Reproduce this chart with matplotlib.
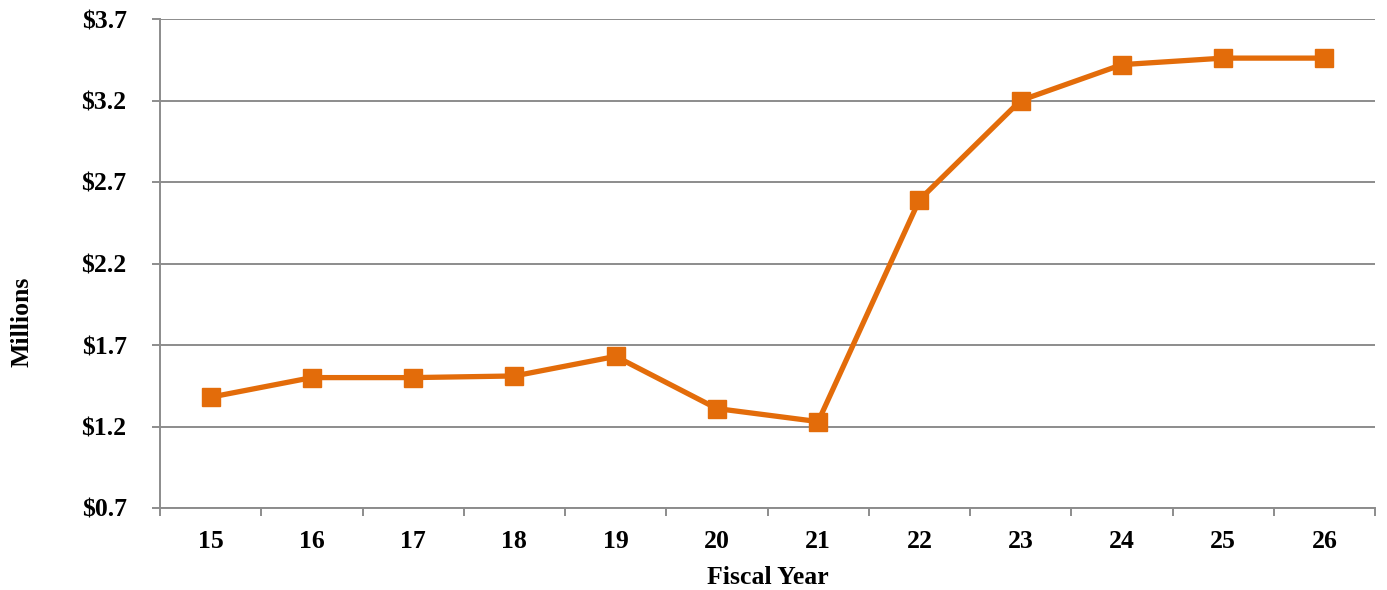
import matplotlib
matplotlib.use("Agg")
import matplotlib.pyplot as plt
import numpy as np
from matplotlib.ticker import FixedLocator, NullFormatter, FuncFormatter

fiscal_years = ["15", "16", "17", "18", "19", "20", "21", "22", "23", "24", "25", "26"]
values_millions = [1.38, 1.50, 1.50, 1.51, 1.63, 1.31, 1.23, 2.59, 3.20, 3.42, 3.46, 3.46]
y_ticks = [0.7, 1.2, 1.7, 2.2, 2.7, 3.2, 3.7]

LINE_COLOR = "#E36C0A"
GRID_COLOR = "#8C8C8C"
FONT_SIZE = 18.5

plt.rcParams["font.family"] = ["Liberation Serif", "DejaVu Serif"]
plt.rcParams["font.weight"] = "bold"

fig = plt.figure(figsize=(13.87, 5.90), dpi=100)
ax = fig.add_axes([160 / 1387, 82 / 590, (1375 - 160) / 1387, (508 - 19) / 590])

x = np.arange(len(fiscal_years))
ax.plot(x, values_millions, color=LINE_COLOR, linewidth=3.8, marker="s",
        markersize=12.5, markerfacecolor=LINE_COLOR, markeredgecolor=LINE_COLOR,
        zorder=3, solid_joinstyle="miter")

ax.set_xlim(-0.5, len(fiscal_years) - 0.5)
ax.set_ylim(y_ticks[0], y_ticks[-1])

# y axis: dollar labels with horizontal gridlines
ax.yaxis.set_major_locator(FixedLocator(y_ticks))
ax.yaxis.set_major_formatter(FuncFormatter(lambda v, _: f"${v:.1f}"))
ax.grid(axis="y", color=GRID_COLOR, linewidth=1.4, zorder=0)
ax.tick_params(axis="y", which="major", length=6, width=1.4, color=GRID_COLOR,
               pad=18, labelsize=FONT_SIZE)

# x axis: tick marks between categories, labels at category centres
ax.xaxis.set_major_locator(FixedLocator(np.arange(-0.5, len(fiscal_years), 1.0)))
ax.xaxis.set_major_formatter(NullFormatter())
ax.xaxis.set_minor_locator(FixedLocator(x))
ax.set_xticklabels(fiscal_years, minor=True)
ax.tick_params(axis="x", which="major", length=6, width=1.4, color=GRID_COLOR)
ax.tick_params(axis="x", which="minor", length=0, pad=16, labelsize=FONT_SIZE)

for side in ("top", "right"):
    ax.spines[side].set_visible(False)
for side in ("left", "bottom"):
    ax.spines[side].set_color(GRID_COLOR)
    ax.spines[side].set_linewidth(1.4)

for lbl in ax.get_xticklabels(minor=True) + ax.get_yticklabels():
    lbl.set_fontweight("bold")

ax.set_xlabel("Fiscal Year", fontsize=FONT_SIZE, fontweight="bold")
ax.xaxis.set_label_coords(0.5, -0.119)
ax.set_ylabel("Millions", fontsize=FONT_SIZE, fontweight="bold")
ax.yaxis.set_label_coords(-0.104, 0.38)

fig.savefig("out.png", dpi=100)
